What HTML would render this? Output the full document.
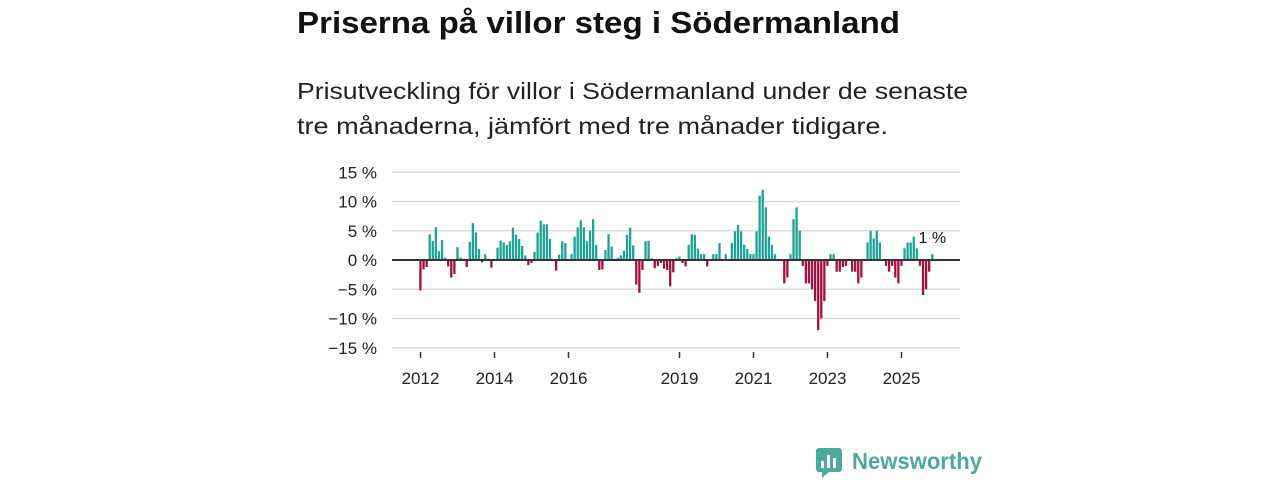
<!DOCTYPE html>
<html><head><meta charset="utf-8"><style>
body{margin:0;background:#fff;width:1280px;height:480px;overflow:hidden;font-family:"Liberation Sans","DejaVu Sans",sans-serif;}
</style></head><body>
<svg width="1280" height="480" style="position:absolute;left:0;top:0">
<text x="297" y="33" font-size="31" font-weight="bold" fill="#111" textLength="603" lengthAdjust="spacingAndGlyphs">Priserna på villor steg i Södermanland</text>
<text x="297" y="99" font-size="23" fill="#222" textLength="671" lengthAdjust="spacingAndGlyphs">Prisutveckling för villor i Södermanland under de senaste</text>
<text x="297" y="134" font-size="23" fill="#222" textLength="591" lengthAdjust="spacingAndGlyphs">tre månaderna, jämfört med tre månader tidigare.</text>
<g id="grid"></g><g id="bars"></g><g id="axes"></g>
<g>
<rect x="816" y="448" width="26" height="24" rx="3" fill="#4ea89c"/>
<path d="M822 472 L822 478 L829 472Z" fill="#4ea89c"/>
<rect x="821" y="461" width="3" height="7" fill="#fff"/><rect x="827" y="455" width="3" height="13" fill="#fff"/><rect x="833" y="458" width="3" height="10" fill="#fff"/>
<text x="852" y="469" font-size="23" fill="#4ea89c" font-weight="bold" textLength="130" lengthAdjust="spacingAndGlyphs">Newsworthy</text>
</g>
</svg>
<script>
const startYear = 2012;
const values = [-5.2,-1.6,-1.2,4.4,3.3,5.6,1.5,3.4,0.4,-1.1,-3,-2.4,2.2,0.4,0.2,-1.2,3.1,6.3,4.7,1.9,-0.4,1,0.2,-1.3,0,
2.1,3.3,3.0,2.6,3.2,5.5,4.3,3.6,2.4,0.8,-0.9,-0.5,1.4,4.7,6.7,6.1,6.1,3.6,0,-1.8,0.9,3.2,2.9,0,1,4.0,5.6,6.8,5.6,3.2,
5,7,2.6,-1.7,-1.6,1.7,4.4,2.3,0.2,0.4,0.8,1.6,4.3,5.5,2.5,-4.2,-5.6,-1.7,3.2,3.3,0.3,-1.4,-1,-0.5,-1.5,-1.7,-4.5,-2.1,0.3,0.6,
-0.5,-1.1,2.6,4.4,4.3,1.9,1,1,-1.1,0,1,1,2.9,0,1,0,2.9,4.9,6.0,4.9,2.6,1.9,1,1,4.9,11,12,9,4,2.6,1,
0,0,-4,-3,1,7,9,5,-1,-4,-4,-5,-7,-12,-10,-7,-1,1,1,-2,-2,-1.2,-1,0,-2,-2,-4,-3,0,3,5,3.7,5,3,0,-1,-2,-1,-3,-4,-1,2,3,3,4,2,-1,-6,-5,-2,1];
const yTicks = [15,10,5,0,-5,-10,-15];
const xTicks = [2012,2014,2016,2019,2021,2023,2025];
const lastLabel = "1 %";
const NS="http://www.w3.org/2000/svg";
const y = v => 260 - v*5.85;
const x = yr => 420.5 + 37*(yr-startYear);
function mk(tag, attrs, parent){const e=document.createElementNS(NS,tag);for(const k in attrs)e.setAttribute(k,attrs[k]);parent.appendChild(e);return e;}
const grid=document.getElementById('grid'), bars=document.getElementById('bars'), axes=document.getElementById('axes');
yTicks.forEach(t=>{
  if(t!==0){const l=mk('line',{x1:392,x2:960,y1:y(t),y2:y(t),stroke:'#ddd','stroke-width':1.5},grid);
  
  }
  const tx=mk('text',{x:377,y:y(t)+6,'text-anchor':'end','font-size':17,fill:'#222'},axes);
  tx.textContent=(t<0?'\u2212'+(-t):t)+' %';
  
  
});
values.forEach((v,i)=>{
  const cx=x(startYear+i/12);
  const r=mk('rect',{x:cx-1.2,width:2.3,y:Math.min(y(v),y(0)),height:Math.abs(y(v)-y(0)),fill:v>=0?'#1fa396':'#a3103f'},bars);
  
  
});
const z=mk('line',{x1:392,x2:960,y1:y(0),y2:y(0),stroke:'#333','stroke-width':2},axes);


xTicks.forEach(t=>{
  const tk=mk('line',{x1:x(t),x2:x(t),y1:352,y2:358,stroke:'#333','stroke-width':1.5},axes);
  
  
  const tx=mk('text',{x:x(t),y:384,'text-anchor':'middle','font-size':17,fill:'#222'},axes);
  tx.textContent=t;
  
  
});
const li=values.length-1;
const lab=mk('text',{x:x(startYear+li/12),y:243,'text-anchor':'middle','font-size':16,fill:'#111'},axes);
lab.textContent=lastLabel;


</script>
</body></html>
